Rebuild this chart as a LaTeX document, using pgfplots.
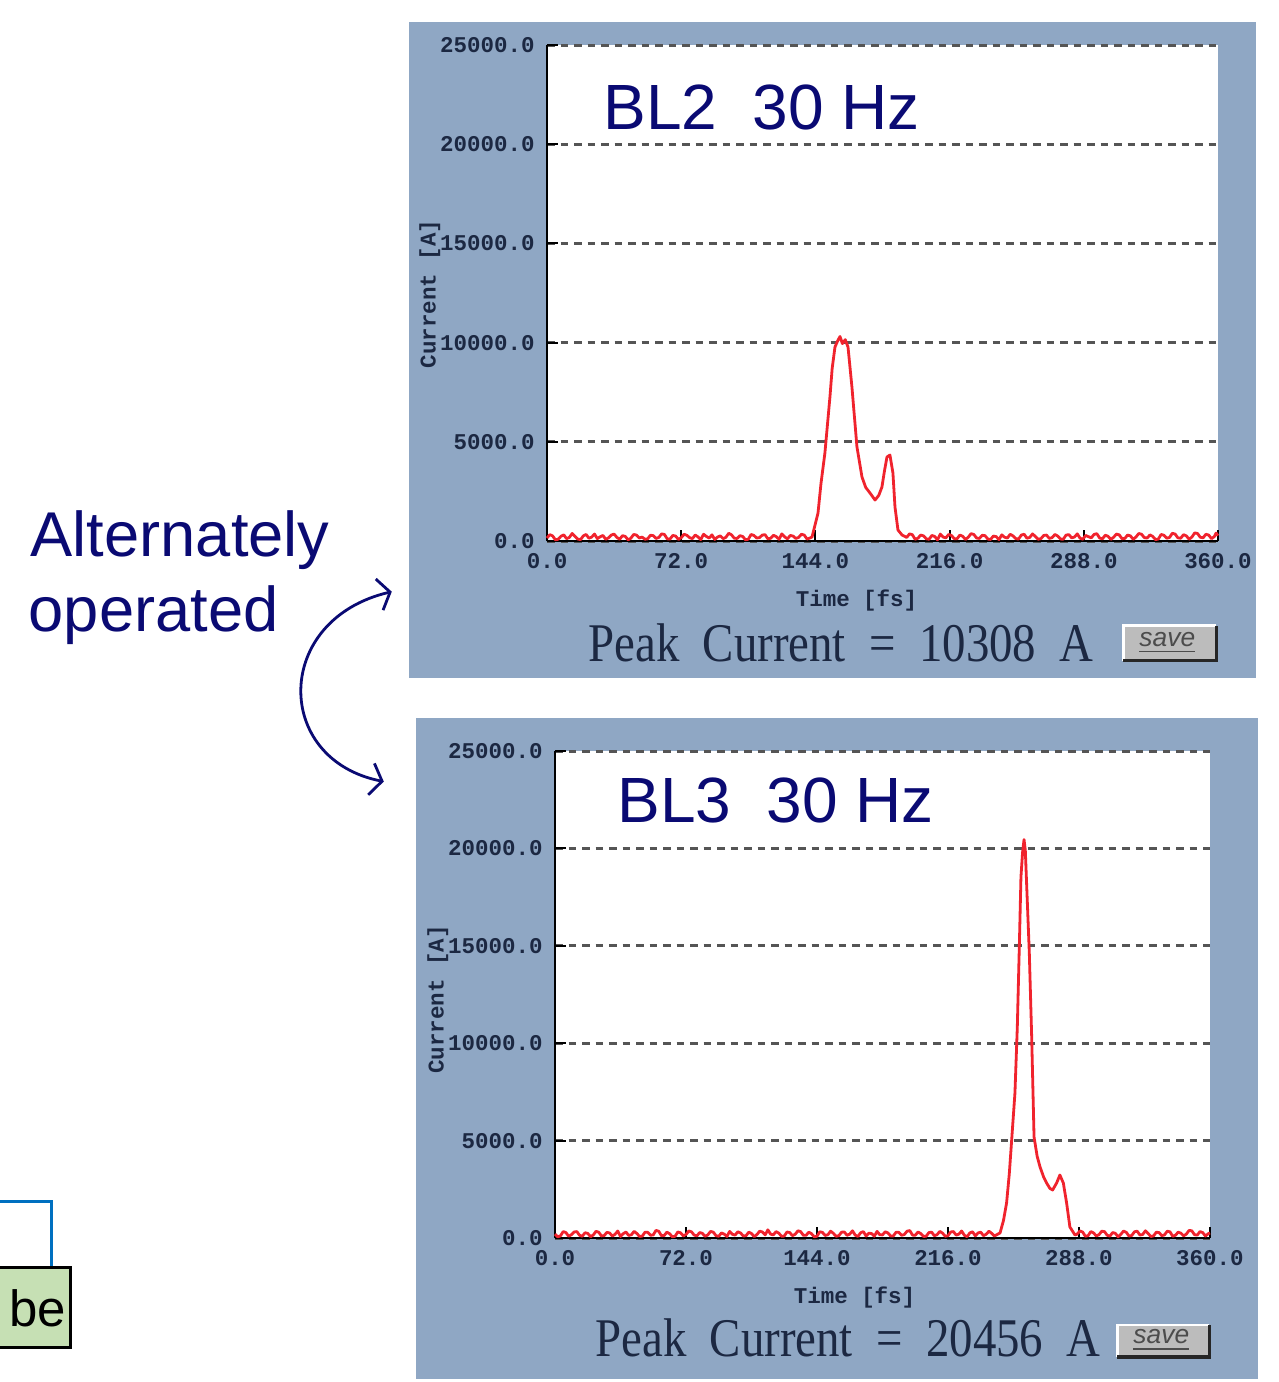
\documentclass[border=0pt]{standalone}
\usepackage{pgfplots}
\pgfplotsset{compat=1.18}
\usepackage{fontspec}
\setmainfont{Liberation Sans}
\newfontfamily\monofont{Liberation Mono}
\newfontfamily\seriffont{Liberation Serif}
\usetikzlibrary{arrows.meta}
\definecolor{panelbg}{RGB}{143,167,196}
\definecolor{ticktxt}{RGB}{28,40,66}
\definecolor{titlenavy}{RGB}{10,10,115}
\definecolor{tracered}{RGB}{240,35,45}
\definecolor{gridgray}{RGB}{85,85,85}
\definecolor{boxgreen}{RGB}{198,224,180}
\definecolor{lineblue}{RGB}{0,112,192}
\definecolor{btngray}{RGB}{188,188,188}
\pgfplotsset{
  pulse/.style={
    scale only axis,
    anchor=south west,
    xmin=0, xmax=360, ymin=0, ymax=25000,
    axis x line*=bottom, axis y line*=left,
    axis line style={black, line width=0.28mm, -},
    xtick={0,72,144,216,288,360},
    ytick={0,5000,10000,15000,20000,25000},
    scaled ticks=false,
    tick align=inside,
    major tick length=1.1mm,
    tick style={black, line width=0.2mm},
    ymajorgrids,
    grid style={gridgray, line width=0.3mm, dash pattern=on 0.75mm off 0.6mm},
    axis background/.style={fill=white},
    clip=false,
    ticklabel style={font=\fontsize{6.4}{7}\selectfont\monofont\bfseries, text=ticktxt,
      /pgf/number format/fixed, /pgf/number format/fixed zerofill,
      /pgf/number format/precision=1, /pgf/number format/1000 sep={},
      /pgf/number format/assume math mode=true},
  },
  trace/.style={tracered, line width=0.28mm, line join=round, no marks},
}
\begin{document}
\begin{tikzpicture}
\useasboundingbox (0,0) rectangle (12.79,-13.82);
\clip (0,0) rectangle (12.79,-13.82);
\begin{scope}[x=0.01cm, y=-0.01cm]
  \fill[panelbg] (409,22) rectangle (1257,678);
  \fill[panelbg] (416,718) rectangle (1259,1380);
\end{scope}

\begin{axis}[pulse, at={(5.47cm,-5.41cm)}, width=6.71cm, height=4.96cm]
\addplot[trace] coordinates {
(0,150)(1.5,320)(3,260)(4.5,60)(6,90)(7.5,240)(9,310)(10.5,120)(12,180)(13.5,380)(15,240)(16.5,100)(18,70)(19.5,260)(21,330)(22.5,140)(24,200)(25.5,350)(27,120)(28.5,210)
(30,280)(31.5,90)(33,160)(34.5,300)(36,350)(37.5,180)(39,90)(40.5,270)(42,230)(43.5,60)(45,140)(46.5,330)(48,300)(49.5,150)(51,200)(52.5,90)(54,110)(55.5,290)(57,270)(58.5,130)
(60,180)(61.5,360)(63,330)(64.5,110)(66,100)(67.5,280)(69,250)(70.5,80)(72,160)(73.5,340)(75,290)(76.5,170)(78,120)(79.5,300)(81,210)(82.5,70)(84,340)(85.5,230)(87,150)(88.5,310)
(90,80)(91.5,200)(93,260)(94.5,120)(96,190)(97.5,390)(99,310)(100.5,140)(102,130)(103.5,270)(105,230)(106.5,60)(108,90)(109.5,330)(111,280)(112.5,150)(114,170)(115.5,300)(117,320)(118.5,110)
(120,140)(121.5,290)(123,220)(124.5,90)(126,360)(127.5,210)(129,110)(130.5,280)(132,250)(133.5,130)(135,180)(136.5,340)(138,300)(139.5,100)(141,150)
(142.2,200)(145.4,1411)(147,2900)(149.1,4435)(151.8,7258)(153,8700)(154.5,9778)
(156,10100)(157.2,10308)(158.5,9950)(160,10150)(161.5,9778)(163.6,7762)(166.3,4738)
(169,3226)(171,2700)(173.3,2419)(176,2066)(178,2300)(179.7,2722)(181,3500)(182.4,4234)
(184,4334)(185.6,3427)(186.7,1714)(188.3,554)(190.5,302)
(193,180)(194.5,360)(196,320)(197.5,90)(199,140)(200.5,300)(202,260)(203.5,110)(205,90)(206.5,280)(208,230)(209.5,60)(211,350)(212.5,200)(214,160)(215.5,330)(217,280)(218.5,120)
(220,110)(221.5,300)(223,240)(224.5,80)(226,190)(227.5,370)(229,330)(230.5,150)(232,130)(233.5,290)(235,270)(236.5,100)(238,80)(239.5,250)(241,220)(242.5,70)(244,310)(245.5,190)
(247,150)(248.5,340)(250,260)(251.5,120)(253,100)(254.5,300)(256,340)(257.5,140)(259,180)(260.5,360)(262,230)(263.5,90)(265,120)(266.5,280)(268,300)(269.5,130)(271,170)(272.5,330)
(274,250)(275.5,100)(277,90)(278.5,300)(280,320)(281.5,160)(283,200)(284.5,360)(286,140)(287.5,90)(289,280)(290.5,220)(292,160)(293.5,330)(295,370)(296.5,150)(298,110)(299.5,290)
(301,240)(302.5,80)(304,190)(305.5,350)(307,310)(308.5,120)(310,130)(311.5,300)(313,260)(314.5,90)(316,200)(317.5,380)(319,340)(320.5,170)(322,150)(323.5,310)(325,230)(326.5,70)
(328,100)(329.5,330)(331,290)(332.5,140)(334,180)(335.5,390)(337,350)(338.5,160)(340,140)(341.5,320)(343,260)(344.5,90)(346,200)(347.5,410)(349,380)(350.5,190)(352,160)(353.5,340)
(355,300)(356.5,120)(358,220)(359,400)(360,270)
};
\end{axis}

\begin{axis}[pulse, at={(5.55cm,-12.38cm)}, width=6.55cm, height=4.87cm]
\addplot[trace] coordinates {
(0,200)(1.5,60)(3,110)(4.5,330)(6,280)(7.5,90)(9,170)(10.5,310)(12,330)(13.5,140)(15,90)(16.5,270)(18,240)(19.5,70)(21,150)(22.5,340)(24,300)(25.5,110)(27,120)(28.5,290)
(30,260)(31.5,100)(33,190)(34.5,360)(36,80)(37.5,220)(39,310)(40.5,130)(42,170)(43.5,340)(45,230)(46.5,80)(48,100)(49.5,300)(51,290)(52.5,140)(54,160)(55.5,390)(57,350)(58.5,120)
(60,130)(61.5,300)(63,220)(64.5,60)(66,90)(67.5,310)(69,270)(70.5,110)(72,180)(73.5,360)(75,320)(76.5,150)(78,110)(79.5,280)(81,240)(82.5,90)(84,160)(85.5,340)(87,300)(88.5,120)
(90,90)(91.5,260)(93,200)(94.5,80)(96,340)(97.5,190)(99,150)(100.5,320)(102,260)(103.5,100)(105,120)(106.5,300)(108,230)(109.5,70)(111,180)(112.5,350)(114,310)(115.5,160)(117,420)(118.5,200)
(120,160)(121.5,330)(123,250)(124.5,90)(126,100)(127.5,310)(129,280)(130.5,120)(132,190)(133.5,370)(135,330)(136.5,140)(138,140)(139.5,300)(141,220)(142.5,60)(144,90)(145.5,320)(147,290)(148.5,130)
(150,170)(151.5,350)(153,240)(154.5,90)(156,120)(157.5,300)(159,310)(160.5,140)(162,200)(163.5,370)(165,150)(166.5,80)(168,270)(169.5,330)(171,100)(172.5,250)(174,230)(175.5,90)(177,340)(178.5,170)
(180,160)(181.5,320)(183,260)(184.5,100)(186,110)(187.5,300)(189,290)(190.5,140)(192,180)(193.5,350)(195,380)(196.5,150)(198,140)(199.5,310)(201,230)(202.5,80)(204,90)(205.5,280)(207,300)(208.5,120)
(210,170)(211.5,340)(213,250)(214.5,90)(216,120)(217.5,310)(219,330)(220.5,150)(222,200)(223.5,360)(225,140)(226.5,70)(228,260)(229.5,320)(231,110)(232.5,260)(234,300)(235.5,120)(237,190)(238.5,350)
(240,240)(241.5,100)(243,180)
(244.6,257)(246.5,900)(248.2,1797)(249.7,3300)(251,5030)(252.8,7443)(254.1,10831)
(255.2,14937)(256.1,18530)(257,19800)(257.8,20456)(258.5,19900)(259.2,18222)(260.7,14629)
(262,10317)(263.3,5184)(265,4200)(266.6,3644)(268.5,3150)(270.2,2823)(272,2550)(273.5,2464)
(275.7,2823)(277.5,3234)(279.4,2823)(281.2,1797)(283,565)(285.8,154)
(287,200)(288.5,360)(290,310)(291.5,90)(293,120)(294.5,330)(296,260)(297.5,110)(299,170)(300.5,350)(302,330)(303.5,140)(305,100)(306.5,280)(308,240)(309.5,60)(311,190)(312.5,360)
(314,290)(315.5,100)(317,130)(318.5,320)(320,350)(321.5,150)(323,180)(324.5,370)(326,230)(327.5,80)(329,110)(330.5,300)(332,280)(333.5,120)(335,160)(336.5,350)(338,320)(339.5,90)
(341,140)(342.5,300)(344,250)(345.5,110)(347,200)(348.5,390)(350,370)(351.5,170)(353,150)(354.5,330)(356,280)(357.5,100)(359,220)(360,260)
};
\end{axis}

\begin{scope}[x=0.01cm, y=-0.01cm]
  % titles
  \node[anchor=base west, inner sep=0, font=\fontsize{18.2}{20}\selectfont, text=titlenavy] at (603,130) {BL2\ \ 30 Hz};
  \node[anchor=base west, inner sep=0, font=\fontsize{18.2}{20}\selectfont, text=titlenavy] at (617,823) {BL3\ \ 30 Hz};
  % axis labels
  \node[font=\fontsize{6.4}{7}\selectfont\monofont\bfseries, text=ticktxt] at (857,601) {Time [fs]};
  \node[font=\fontsize{6.4}{7}\selectfont\monofont\bfseries, text=ticktxt] at (855,1298) {Time [fs]};
  \node[rotate=90, font=\fontsize{6.4}{7}\selectfont\monofont\bfseries, text=ticktxt] at (430,294) {Current [A]};
  \node[rotate=90, font=\fontsize{6.4}{7}\selectfont\monofont\bfseries, text=ticktxt] at (438,1000) {Current [A]};
  % peak current
  \node[anchor=base west, inner sep=0, font=\fontsize{15.5}{17}\seriffont, text=ticktxt] at (588,662) {\scalebox{0.86}[1]{Peak\ \ Current\ \ =\ \ 10308\ \ A}};
  \node[anchor=base west, inner sep=0, font=\fontsize{15.5}{17}\seriffont, text=ticktxt] at (595,1357) {\scalebox{0.86}[1]{Peak\ \ Current\ \ =\ \ 20456\ \ A}};
  % save buttons
  \fill[btngray] (1124,626) rectangle (1217,661);
  \draw[white, line width=0.25mm] (1124,661) -- (1124,626) -- (1217,626);
  \draw[black!85, line width=0.35mm] (1124,661) -- (1217,661) -- (1217,626);
  \node[font=\fontsize{7.5}{8}\selectfont\itshape, text=black!70] at (1168,643) {\underline{save}};
  \fill[btngray] (1118,1326) rectangle (1210,1358);
  \draw[white, line width=0.25mm] (1118,1358) -- (1118,1326) -- (1210,1326);
  \draw[black!85, line width=0.35mm] (1118,1358) -- (1210,1358) -- (1210,1326);
  \node[font=\fontsize{7.5}{8}\selectfont\itshape, text=black!70] at (1162,1341) {\underline{save}};
  % left annotation
  \node[anchor=base west, inner sep=0, font=\fontsize{18}{20}\selectfont, text=titlenavy] at (30,557) {Alternately};
  \node[anchor=base west, inner sep=0, font=\fontsize{18}{20}\selectfont, text=titlenavy] at (28,632) {operated};
  \draw[titlenavy, line width=0.28mm, {Straight Barb[length=1.1mm,width=3.2mm]}-{Straight Barb[length=1.1mm,width=3.2mm]}]
     (392,592) .. controls (273,620) and (273,760) .. (384,782);
  % partial box bottom-left
  \draw[lineblue, line width=0.3mm] (-5,1202) -- (52,1202) -- (52,1268);
  \filldraw[fill=boxgreen, draw=black, line width=0.3mm] (-20,1268) rectangle (71,1348);
  \node[anchor=base east, inner sep=0, font=\fontsize{14.5}{16}\selectfont] at (67,1327) {be};
\end{scope}
\end{tikzpicture}
\end{document}
